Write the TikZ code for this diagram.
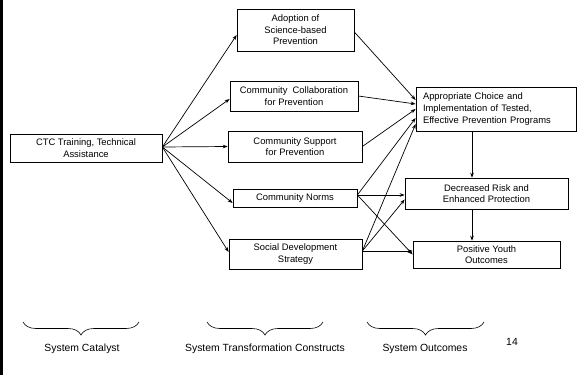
\documentclass[tikz,border=0pt]{standalone}
\usepackage{fontspec}
\setmainfont{Liberation Sans}
\usetikzlibrary{arrows.meta,decorations.pathreplacing}
\begin{document}
\begin{tikzpicture}[x=1pt,y=-1pt,
  box/.style={draw=black, line width=0.7pt, inner sep=0pt, align=center,
    font=\fontsize{9.4}{11.6}\selectfont},
  arr/.style={draw=black, line width=0.7pt, -{Stealth[length=5pt,width=3.6pt]}},
  brc/.style={draw=black, line width=0.6pt, decorate,
    decoration={brace, mirror, amplitude=13pt}},
  lbl/.style={font=\fontsize{10.4}{12}\selectfont, inner sep=0pt}]
\useasboundingbox (0,0) rectangle (582,375);
\fill[black] (0,0) rectangle (3,375);
% nodes
\node[box, minimum width=152pt, minimum height=28pt] (ctc) at (86,148) {CTC Training, Technical\\Assistance};
\node[box, minimum width=117pt, minimum height=42pt] (adopt) at (295.5,30) {Adoption of\\Science-based\\Prevention};
\node[box, minimum width=128pt, minimum height=30pt] (collab) at (294,96) {Community\ \ Collaboration\\for Prevention};
\node[box, minimum width=134pt, minimum height=31pt] (support) at (295,146.5) {Community Support\\for Prevention};
\node[box, minimum width=124pt, minimum height=18pt] (norms) at (295,198) {Community Norms};
\node[box, minimum width=133pt, minimum height=30pt] (social) at (295.5,254) {Social Development\\Strategy};
\node[box, text width=146pt, inner xsep=7pt, align=left, minimum height=44pt] (approp) at (496,109) {Appropriate Choice and\\Implementation of Tested,\\Effective Prevention Programs};
\node[box, minimum width=163pt, minimum height=31pt] (decr) at (486.5,193.5) {Decreased Risk and\\Enhanced Protection};
\node[box, minimum width=147pt, minimum height=27pt] (pos) at (486.5,254.5) {Positive Youth\\Outcomes};
% arrows from catalyst
\draw[arr] ([yshift=1pt]ctc.east) -- ([yshift=-5pt]adopt.west);
\draw[arr] ([yshift=1pt]ctc.east) -- ([yshift=-3pt]collab.west);
\draw[arr] ([yshift=1pt]ctc.east) -- (support.west);
\draw[arr] ([yshift=1pt]ctc.east) -- ([yshift=-5pt]norms.west);
\draw[arr] ([yshift=1pt]ctc.east) -- ([yshift=2pt]social.west);
% arrows to appropriate choice
\draw[arr] ([yshift=-2pt]adopt.east) -- ([yshift=9pt]approp.west);
\draw[arr] (collab.east) -- ([yshift=5pt]approp.west);
\draw[arr] (support.east) -- ([yshift=0pt]approp.west);
\draw[arr] ([yshift=3pt]norms.east) -- ([yshift=-9pt]approp.west);
\draw[arr] ([yshift=3pt]social.east) -- ([yshift=-15pt]approp.west);
% arrows to outcomes
\draw[arr] ([yshift=3pt]norms.east) -- (decr.west |- 0,195);
\draw[arr] ([yshift=3pt]norms.east) -- (pos.west);
\draw[arr] ([yshift=3pt]social.east) -- ([yshift=-6pt]decr.west);
\draw[arr] ([yshift=3pt]social.east) -- (pos.west |- 0,251);
\draw[arr] (approp.south -| 472,0) -- (decr.north -| 472,0);
\draw[arr] (decr.south -| 472,0) -- (pos.north -| 472,0);
% braces
\coordinate (b1a) at (23,322); \coordinate (b1b) at (139,322);
\coordinate (b2a) at (207,322); \coordinate (b2b) at (323,322);
\coordinate (b3a) at (367,322); \coordinate (b3b) at (484,322);
\draw[brc] (b1a) -- (b1b);
\draw[brc] (b2a) -- (b2b);
\draw[brc] (b3a) -- (b3b);
\node[lbl] (l1) at (82,349) {System Catalyst};
\node[lbl] (l2) at (265,349) {System Transformation Constructs};
\node[lbl] (l3) at (425,349) {System Outcomes};
\node[lbl] (pg) at (512,342) {14};
\end{tikzpicture}
\end{document}
